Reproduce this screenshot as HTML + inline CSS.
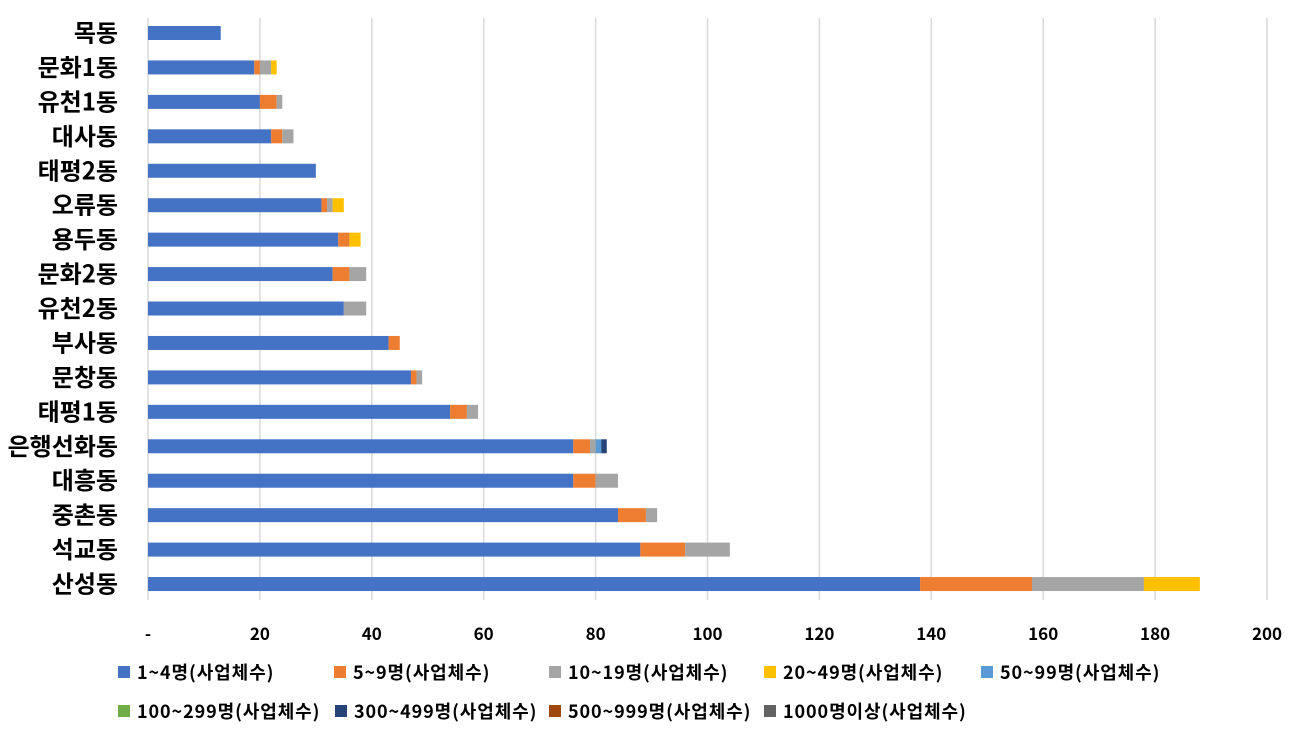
<!DOCTYPE html>
<html><head><meta charset="utf-8"><style>
body{margin:0;background:#fff;}
svg text{font-family:"Noto Sans CJK KR","Liberation Sans",sans-serif;font-weight:bold;fill:#000;}
</style></head><body>
<svg width="1303" height="731" xmlns="http://www.w3.org/2000/svg">
<g stroke="#d9d9d9" stroke-width="1.5">
<line x1="148" y1="18" x2="148" y2="600"/><line x1="259.9" y1="18" x2="259.9" y2="600"/>
<line x1="371.8" y1="18" x2="371.8" y2="600"/><line x1="483.7" y1="18" x2="483.7" y2="600"/>
<line x1="595.6" y1="18" x2="595.6" y2="600"/><line x1="707.5" y1="18" x2="707.5" y2="600"/>
<line x1="819.4" y1="18" x2="819.4" y2="600"/><line x1="931.3" y1="18" x2="931.3" y2="600"/>
<line x1="1043.2" y1="18" x2="1043.2" y2="600"/><line x1="1155.1" y1="18" x2="1155.1" y2="600"/>
<line x1="1267" y1="18" x2="1267" y2="600"/>
</g>
<g id="bars"></g>
<g font-size="17" text-anchor="middle">
<text x="148" y="640">-</text><text x="259.9" y="640">20</text><text x="371.8" y="640">40</text><text x="483.7" y="640">60</text><text x="595.6" y="640">80</text><text x="707.5" y="640">100</text><text x="819.4" y="640">120</text><text x="931.3" y="640">140</text><text x="1043.2" y="640">160</text><text x="1155.1" y="640">180</text><text x="1267" y="640">200</text>
</g>
<g id="labels" font-size="24" text-anchor="end"></g>
<g font-size="18" letter-spacing="0.9">
<rect x="118" y="666" width="12" height="12" fill="#4472c4"/><text x="137" y="679">1~4명(사업체수)</text>
<rect x="334" y="666" width="12" height="12" fill="#ed7d31"/><text x="353" y="679">5~9명(사업체수)</text>
<rect x="549" y="666" width="12" height="12" fill="#a5a5a5"/><text x="568" y="679">10~19명(사업체수)</text>
<rect x="764" y="666" width="12" height="12" fill="#ffc000"/><text x="783" y="679">20~49명(사업체수)</text>
<rect x="981" y="666" width="12" height="12" fill="#5b9bd5"/><text x="1000" y="679">50~99명(사업체수)</text>
<rect x="118" y="705" width="12" height="12" fill="#70ad47"/><text x="137" y="718">100~299명(사업체수)</text>
<rect x="335" y="705" width="12" height="12" fill="#264478"/><text x="354" y="718">300~499명(사업체수)</text>
<rect x="549" y="705" width="12" height="12" fill="#9e480e"/><text x="568" y="718">500~999명(사업체수)</text>
<rect x="764" y="705" width="12" height="12" fill="#636363"/><text x="783" y="718">1000명이상(사업체수)</text>
</g>
</svg>
<script>
var rows=[["목동",[13]],["문화1동",[19,1,2,1]],["유천1동",[20,3,1]],["대사동",[22,2,2]],["태평2동",[30]],["오류동",[31,1,1,2]],["용두동",[34,2,0,2]],["문화2동",[33,3,3]],["유천2동",[35,0,4]],["부사동",[43,2]],["문창동",[47,1,1]],["태평1동",[54,3,2]],["은행선화동",[76,3,1,0,1,0,1]],["대흥동",[76,4,4]],["중촌동",[84,5,2]],["석교동",[88,8,8]],["산성동",[138,20,20,10]]];
var cols=["#4472c4","#ed7d31","#a5a5a5","#ffc000","#5b9bd5","#70ad47","#264478"];
var ns="http://www.w3.org/2000/svg",b=document.getElementById("bars"),l=document.getElementById("labels");
rows.forEach(function(r,i){var y=26+34.44*i,x=148;
r[1].forEach(function(v,j){if(!v)return;var e=document.createElementNS(ns,"rect");e.setAttribute("x",x);e.setAttribute("y",y);e.setAttribute("width",v*5.595);e.setAttribute("height",14);e.setAttribute("fill",cols[j]);b.appendChild(e);x+=v*5.595;});
var t=document.createElementNS(ns,"text");t.setAttribute("x",118);t.setAttribute("y",y+15.5);t.textContent=r[0];l.appendChild(t);});
</script>
</body></html>
